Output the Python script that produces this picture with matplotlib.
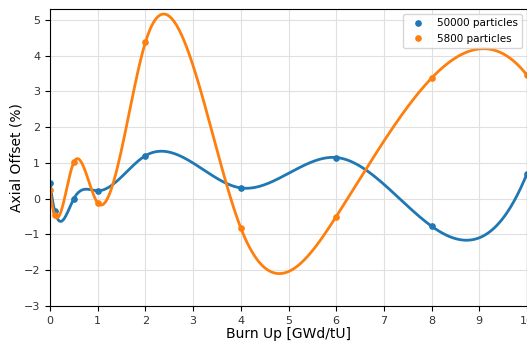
import numpy as np
import matplotlib
matplotlib.use("Agg")
import matplotlib.pyplot as plt

# burn up points (GWd/tU) and axial offsets (%)
burnup = [0, 0.1, 0.5, 1, 2, 4, 6, 8, 10]
ao_50000 = [0.45, -0.35, 0.0, 0.22, 1.2, 0.3, 1.15, -0.77, 0.7]
ao_5800 = [0.25, -0.47, 1.02, -0.12, 4.37, -0.82, -0.5, 3.37, 3.45]


def cubic_spline(x, y, num=400):
    # not-a-knot cubic spline, piecewise a + b*t + c*t^2 + d*t^3 with t = x - x_i
    x = np.asarray(x, float)
    y = np.asarray(y, float)
    n = len(x) - 1
    A = np.zeros((4 * n, 4 * n))
    rhs = np.zeros(4 * n)
    row = 0
    for i in range(n):
        h = x[i + 1] - x[i]
        A[row, 4 * i] = 1; rhs[row] = y[i]; row += 1
        A[row, 4 * i:4 * i + 4] = [1, h, h**2, h**3]; rhs[row] = y[i + 1]; row += 1
    for i in range(n - 1):
        h = x[i + 1] - x[i]
        A[row, 4 * i:4 * i + 4] = [0, 1, 2 * h, 3 * h**2]
        A[row, 4 * (i + 1) + 1] = -1; row += 1
        A[row, 4 * i:4 * i + 4] = [0, 0, 2, 6 * h]
        A[row, 4 * (i + 1) + 2] = -2; row += 1
    # not-a-knot ends
    A[row, 4 * 0 + 3] = 1; A[row, 4 * 1 + 3] = -1; row += 1
    A[row, 4 * (n - 2) + 3] = 1; A[row, 4 * (n - 1) + 3] = -1; row += 1
    coef = np.linalg.solve(A, rhs).reshape(n, 4)
    xs = np.linspace(x[0], x[-1], num)
    idx = np.clip(np.searchsorted(x, xs, side="right") - 1, 0, n - 1)
    t = xs - x[idx]
    c = coef[idx]
    ys = c[:, 0] + c[:, 1] * t + c[:, 2] * t**2 + c[:, 3] * t**3
    return xs, ys


fig = plt.figure(figsize=(5.27, 3.43), dpi=100)
ax = fig.add_axes([50 / 527, 37 / 343, 477 / 527, 297 / 343])

for vals, col, lab in [(ao_50000, "#1f77b4", "50000 particles"),
                       (ao_5800, "#ff7f0e", "5800 particles")]:
    xs, ys = cubic_spline(burnup, vals)
    ax.plot(xs, ys, color=col, lw=2)
    ax.plot(burnup, vals, "o", color=col, ms=3.8, label=lab)

ax.set_xlim(0, 10)
ax.set_ylim(-3, 5.3)
ax.set_xticks(range(0, 11))
ax.set_yticks(range(-3, 6))
ax.grid(True, color="#e0e0e0", lw=0.8)
ax.tick_params(labelsize=8, labelcolor="#333333")
ax.set_xlabel("Burn Up [GWd/tU]", fontsize=10, labelpad=1)
ax.set_ylabel("Axial Offset (%)", fontsize=10, labelpad=0)
ax.legend(loc="upper right", fontsize=7.5)

fig.savefig("out.png", dpi=100)
